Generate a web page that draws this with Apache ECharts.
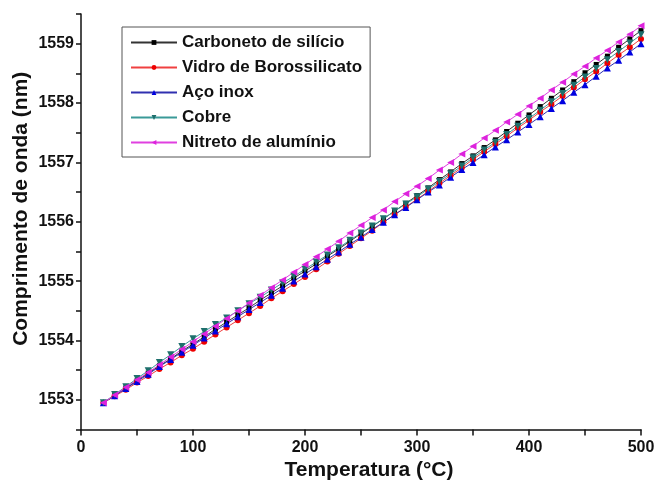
<!DOCTYPE html>
<html>
<head>
<meta charset="utf-8">
<script src="https://cdn.jsdelivr.net/npm/echarts@6/dist/echarts.min.js"></script>
<style>
  html, body { margin: 0; padding: 0; background: #fff; }
  #chart { width: 654px; height: 482px; }
</style>
</head>
<body>
<div id="chart"></div>
<script>
// Temperature (°C), 20 to 500 in steps of 10
const temperatures = [20, 30, 40, 50, 60, 70, 80, 90, 100, 110, 120, 130, 140, 150, 160, 170, 180, 190, 200,
  210, 220, 230, 240, 250, 260, 270, 280, 290, 300, 310, 320, 330, 340, 350, 360, 370, 380, 390, 400,
  410, 420, 430, 440, 450, 460, 470, 480, 490, 500];

// Bragg wavelength (nm) for each substrate material
const carbonetoSilicio = [1552.95, 1553.07, 1553.20, 1553.32, 1553.45, 1553.57, 1553.69, 1553.82, 1553.94,
  1554.06, 1554.19, 1554.31, 1554.43, 1554.55, 1554.68, 1554.80, 1554.92, 1555.05, 1555.17,
  1555.29, 1555.42, 1555.54, 1555.67, 1555.80, 1555.92, 1556.05, 1556.18, 1556.31, 1556.44,
  1556.57, 1556.71, 1556.84, 1556.98, 1557.11, 1557.25, 1557.38, 1557.52, 1557.66, 1557.80,
  1557.94, 1558.08, 1558.22, 1558.36, 1558.51, 1558.65, 1558.79, 1558.94, 1559.08, 1559.22];

const vidroBorossilicato = [1552.95, 1553.06, 1553.17, 1553.29, 1553.40, 1553.52, 1553.63, 1553.75, 1553.86,
  1553.98, 1554.10, 1554.22, 1554.34, 1554.46, 1554.58, 1554.71, 1554.83, 1554.95, 1555.07,
  1555.20, 1555.33, 1555.46, 1555.59, 1555.72, 1555.85, 1555.99, 1556.12, 1556.25, 1556.38,
  1556.51, 1556.65, 1556.78, 1556.91, 1557.05, 1557.18, 1557.31, 1557.44, 1557.58, 1557.71,
  1557.85, 1557.98, 1558.12, 1558.26, 1558.40, 1558.53, 1558.67, 1558.81, 1558.94, 1559.08];

const acoInox = [1552.95, 1553.07, 1553.19, 1553.31, 1553.43, 1553.56, 1553.68, 1553.80, 1553.92,
  1554.04, 1554.16, 1554.28, 1554.40, 1554.52, 1554.64, 1554.76, 1554.88, 1555.00, 1555.12,
  1555.24, 1555.37, 1555.49, 1555.62, 1555.74, 1555.87, 1555.99, 1556.12, 1556.24, 1556.37,
  1556.50, 1556.62, 1556.75, 1556.88, 1557.00, 1557.13, 1557.26, 1557.38, 1557.51, 1557.64,
  1557.77, 1557.91, 1558.04, 1558.18, 1558.31, 1558.45, 1558.59, 1558.72, 1558.86, 1559.00];

const cobre = [1552.95, 1553.09, 1553.22, 1553.36, 1553.49, 1553.63, 1553.76, 1553.90, 1554.03,
  1554.15, 1554.27, 1554.38, 1554.50, 1554.62, 1554.73, 1554.85, 1554.97, 1555.08, 1555.20,
  1555.32, 1555.44, 1555.56, 1555.69, 1555.81, 1555.93, 1556.05, 1556.18, 1556.30, 1556.42,
  1556.55, 1556.68, 1556.81, 1556.94, 1557.08, 1557.21, 1557.34, 1557.47, 1557.61, 1557.74,
  1557.88, 1558.02, 1558.16, 1558.30, 1558.44, 1558.58, 1558.73, 1558.87, 1559.01, 1559.15];

const nitretoAluminio = [1552.95, 1553.08, 1553.21, 1553.34, 1553.46, 1553.59, 1553.72, 1553.85, 1553.98,
  1554.11, 1554.24, 1554.37, 1554.50, 1554.63, 1554.76, 1554.89, 1555.02, 1555.15, 1555.28,
  1555.41, 1555.54, 1555.67, 1555.81, 1555.94, 1556.07, 1556.20, 1556.34, 1556.47, 1556.60,
  1556.73, 1556.87, 1557.00, 1557.14, 1557.27, 1557.41, 1557.54, 1557.68, 1557.81, 1557.95,
  1558.08, 1558.22, 1558.35, 1558.49, 1558.62, 1558.76, 1558.89, 1559.03, 1559.16, 1559.30];

const seriesNames = ['Carboneto de silício', 'Vidro de Borossilicato', 'Aço inox', 'Cobre', 'Nitreto de alumínio'];
const xTickLabels = ['0', '100', '200', '300', '400', '500'];
const yTickLabels = ['1553', '1554', '1555', '1556', '1557', '1558', '1559'];

const FONT = '"Liberation Sans", Arial, sans-serif';

function pairs(values) {
  return temperatures.map((t, i) => [t, values[i]]);
}

function makeSeries(name, values, color, markerColor, symbol, rotate, size) {
  return {
    name: name,
    type: 'line',
    data: pairs(values),
    symbol: symbol,
    symbolSize: size,
    symbolRotate: rotate,
    showAllSymbol: true,
    lineStyle: { color: color, width: 1 },
    itemStyle: { color: markerColor },
    emphasis: { disabled: true },
    animation: false
  };
}

const chart = echarts.init(document.getElementById('chart'), null, { renderer: 'canvas' });

chart.setOption({
  backgroundColor: '#ffffff',
  animation: false,
  grid: { left: 81, right: 13, top: 14, bottom: 52.5, containLabel: false, outerBoundsMode: 'none' },
  legend: {
    orient: 'vertical',
    left: 122,
    top: 27,
    padding: [7, 8, 6, 8],
    itemGap: 8,
    itemWidth: 46,
    itemHeight: 6,
    borderColor: '#555',
    borderWidth: 1,
    textStyle: { fontFamily: FONT, fontSize: 17, fontWeight: 'bold', color: '#111' },
    data: seriesNames
  },
  xAxis: {
    type: 'value',
    min: 0,
    max: 500,
    interval: 50,
    name: 'Temperatura (°C)',
    nameLocation: 'middle',
    nameGap: 30,
    nameMoveOverlap: false,
    nameTextStyle: { fontFamily: FONT, fontSize: 21, fontWeight: 'bold', color: '#111', padding: [0, 0, 0, 16] },
    axisLine: { show: true, onZero: false, lineStyle: { color: '#111', width: 1.5 } },
    axisTick: { show: true, inside: false, length: 6, lineStyle: { color: '#111', width: 1.5 } },
    axisLabel: {
      fontFamily: FONT, fontSize: 16, fontWeight: 'bold', color: '#111', margin: 10,
      showMaxLabel: true,
      formatter: v => (xTickLabels.includes(String(v)) ? String(v) : '')
    },
    splitLine: { show: false }
  },
  yAxis: {
    type: 'value',
    min: 1552.5,
    max: 1559.5,
    interval: 0.5,
    name: 'Comprimento de onda (nm)',
    nameLocation: 'middle',
    nameGap: 49,
    nameMoveOverlap: false,
    nameTextStyle: { fontFamily: FONT, fontSize: 21, fontWeight: 'bold', color: '#111', padding: [0, 0, 0, 26] },
    axisLine: { show: true, onZero: false, lineStyle: { color: '#111', width: 1.5 } },
    axisTick: { show: true, inside: false, length: 5, lineStyle: { color: '#111', width: 1.5 } },
    axisLabel: {
      fontFamily: FONT, fontSize: 16, fontWeight: 'bold', color: '#111', margin: 7,
      formatter: v => (yTickLabels.includes(String(v)) ? String(v) : '')
    },
    splitLine: { show: false }
  },
  series: [
    makeSeries(seriesNames[0], carbonetoSilicio, '#333333', '#000000', 'rect', 0, 5),
    makeSeries(seriesNames[1], vidroBorossilicato, '#f04040', '#ee0000', 'circle', 0, 6),
    makeSeries(seriesNames[2], acoInox, '#3030b0', '#0000e0', 'triangle', 0, 7),
    makeSeries(seriesNames[3], cobre, '#3a9a98', '#1e6f6c', 'triangle', 180, 7),
    makeSeries(seriesNames[4], nitretoAluminio, '#e040e0', '#dd22dd', 'triangle', 90, 7)
  ]
});
</script>
</body>
</html>
